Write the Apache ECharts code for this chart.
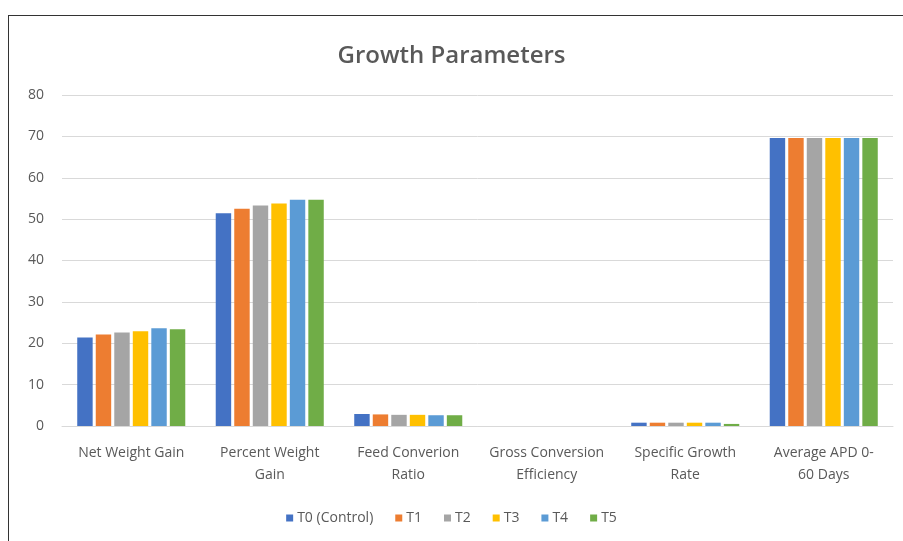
<!DOCTYPE html>
<html>
<head>
<meta charset="utf-8">
<script src="https://cdn.jsdelivr.net/npm/echarts@6/dist/echarts.min.js"></script>
<style>
  html, body { margin: 0; padding: 0; background: #fff; }
  #chart { position: absolute; left: 0; top: 0; width: 903px; height: 541px; }
  #frame { position: absolute; left: 8px; top: 15px; width: 900px; height: 540px;
           border-top: 1px solid #333; border-left: 1px solid #333; pointer-events: none; }
</style>
</head>
<body>
<div id="chart"></div>
<div id="frame"></div>
<script>
const categories = [
  'Net Weight Gain',
  'Percent Weight\nGain',
  'Feed Converion\nRatio',
  'Gross Conversion\nEfficiency',
  'Specific Growth\nRate',
  'Average APD 0-\n60 Days'
]
const seriesNames = ['T0 (Control)', 'T1', 'T2', 'T3', 'T4', 'T5']
const colors = ['#4472C4', '#ED7D31', '#A5A5A5', '#FFC000', '#5B9BD5', '#70AD47']

// one array per treatment, values in category order
const t0 = [21.4, 51.4, 2.9, 0, 0.8, 69.6]
const t1 = [22.1, 52.5, 2.8, 0, 0.8, 69.6]
const t2 = [22.6, 53.3, 2.7, 0, 0.8, 69.6]
const t3 = [22.9, 53.8, 2.7, 0, 0.8, 69.6]
const t4 = [23.6, 54.7, 2.6, 0, 0.8, 69.6]
const t5 = [23.4, 54.7, 2.6, 0, 0.5, 69.6]
const values = [t0, t1, t2, t3, t4, t5]

const textColor = '#595959'
const font = '"Open Sans", "Liberation Sans", sans-serif'

const chart = echarts.init(document.getElementById('chart'))
chart.setOption({
  animation: false,
  backgroundColor: '#fff',
  title: {
    text: 'Growth Parameters',
    left: 'center',
    top: 39,
    textStyle: { color: textColor, fontSize: 24, fontWeight: 600, fontFamily: font },
  },
  legend: {
    bottom: 11,
    left: 'center',
    itemWidth: 7,
    itemHeight: 7,
    itemGap: 22,
    icon: 'rect',
    textStyle: { color: textColor, fontSize: 14, fontFamily: font, padding: [0, 0, 0, -1] },
    data: seriesNames,
  },
  grid: { left: 62, right: 10, top: 95, bottom: 115 },
  xAxis: {
    type: 'category',
    data: categories,
    axisLine: { lineStyle: { color: '#d9d9d9' } },
    axisTick: { show: false },
    axisLabel: {
      color: textColor, fontSize: 14, fontFamily: font,
      interval: 0, margin: 16, lineHeight: 22,
    },
  },
  yAxis: {
    type: 'value',
    min: 0,
    max: 80,
    interval: 10,
    axisLine: { show: false },
    axisTick: { show: false },
    axisLabel: { color: textColor, fontSize: 14, fontFamily: font, margin: 18 },
    splitLine: { lineStyle: { color: '#d9d9d9' } },
  },
  series: seriesNames.map((name, i) => ({
    name,
    type: 'bar',
    data: values[i],
    barGap: '20%',
    barCategoryGap: '22%',
    itemStyle: { color: colors[i] },
  })),
})
</script>
</body>
</html>
